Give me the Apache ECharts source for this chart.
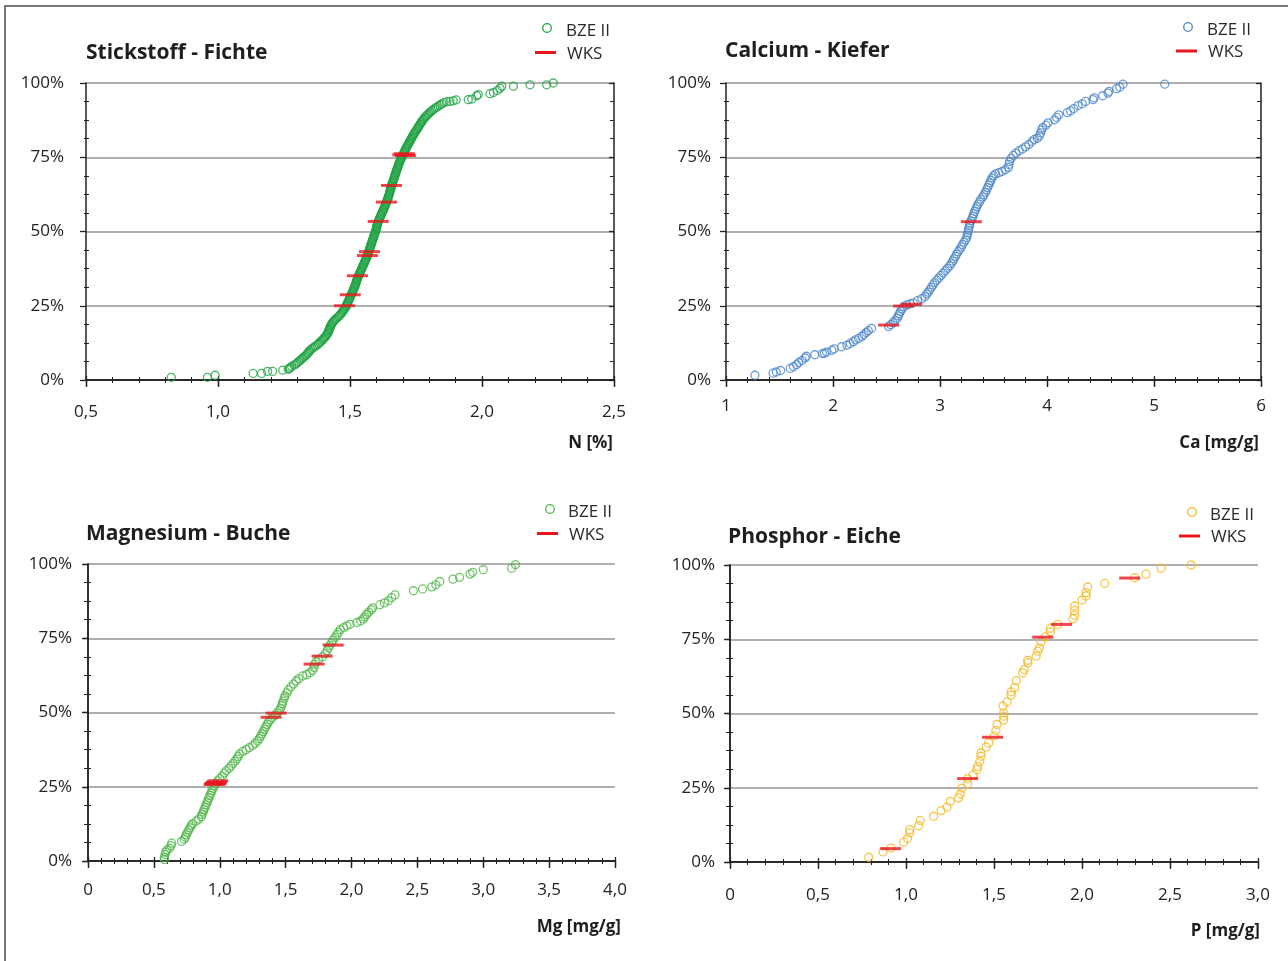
<!DOCTYPE html>
<html><head><meta charset="utf-8">
<script src="https://cdn.jsdelivr.net/npm/echarts@6/dist/echarts.min.js"></script>
<style>html,body{margin:0;padding:0;background:#fff}#c{width:1288px;height:961px}</style>
</head><body><div id="c"></div>
<script>
// ---- texts / tick labels ----
const titles = ['Stickstoff - Fichte', 'Calcium - Kiefer', 'Magnesium - Buche', 'Phosphor - Eiche'];
const axisNames = ['N [%]', 'Ca [mg/g]', 'Mg [mg/g]', 'P [mg/g]'];
const seriesNames = ['BZE II', 'WKS'];
const yTicks = ['0%', '25%', '50%', '75%', '100%'];
const nTicks = ['0,5', '1,0', '1,5', '2,0', '2,5'];
const caTicks = ['1', '2', '3', '4', '5', '6'];
const mgTicks = ['0', '0,5', '1,0', '1,5', '2,0', '2,5', '3,0', '3,5', '4,0'];
const pTicks = ['0', '0,5', '1,0', '1,5', '2,0', '2,5', '3,0'];

// ---- data: [value, cumulative %] ----
const nBZE = [[0.823,0.9],[0.960,0.9],[0.989,1.6],[1.133,2.2],[1.165,2.2],[1.188,2.9],[1.207,2.9],[1.245,3.3],[1.266,3.6],
[1.270,3.8],[1.273,4.2],[1.279,4.6],[1.288,5.0],[1.295,5.4],[1.301,5.8],[1.306,6.2],[1.311,6.6],[1.316,7.0],[1.321,7.4],[1.327,7.8],[1.332,8.2],[1.336,8.6],[1.340,9.0],[1.344,9.4],[1.347,9.8],[1.351,10.2],[1.357,10.6],[1.363,11.0],[1.369,11.4],[1.376,11.8],[1.381,12.2],[1.385,12.6],[1.390,13.0],[1.395,13.4],[1.399,13.8],[1.403,14.2],[1.407,14.6],[1.410,15.0],[1.413,15.4],[1.416,15.8],[1.418,16.2],[1.420,16.6],[1.421,17.0],[1.423,17.4],[1.425,17.8],[1.427,18.2],[1.429,18.6],[1.432,19.0],[1.435,19.4],[1.438,19.8],[1.442,20.2],[1.447,20.6],[1.452,21.0],[1.457,21.4],[1.461,21.8],[1.465,22.2],[1.469,22.6],[1.472,23.0],[1.475,23.4],[1.478,23.8],[1.481,24.2],[1.484,24.6],[1.486,25.0],[1.488,25.4],[1.490,25.8],[1.492,26.2],[1.494,26.6],[1.496,27.0],[1.498,27.4],[1.500,27.8],[1.502,28.2],[1.504,28.6],[1.506,29.0],[1.508,29.4],[1.510,29.8],[1.512,30.2],[1.514,30.6],[1.516,31.0],[1.518,31.4],[1.519,31.8],[1.521,32.2],[1.522,32.6],[1.524,33.0],[1.525,33.4],[1.527,33.8],[1.528,34.2],[1.530,34.6],[1.532,35.0],[1.534,35.4],[1.536,35.8],[1.538,36.2],[1.540,36.6],[1.542,37.0],[1.544,37.4],[1.546,37.8],[1.548,38.2],[1.550,38.6],[1.552,39.0],[1.554,39.4],[1.556,39.8],[1.558,40.2],[1.560,40.6],[1.562,41.0],[1.564,41.4],[1.566,41.8],[1.567,42.2],[1.569,42.6],[1.570,43.0],[1.572,43.4],[1.573,43.8],[1.575,44.2],[1.576,44.6],[1.578,45.0],[1.579,45.4],[1.581,45.8],[1.582,46.2],[1.584,46.6],[1.585,47.0],[1.587,47.4],[1.588,47.8],[1.590,48.2],[1.591,48.6],[1.593,49.0],[1.594,49.4],[1.596,49.8],[1.597,50.2],[1.599,50.6],[1.600,51.0],[1.601,51.4],[1.602,51.8],[1.603,52.2],[1.604,52.6],[1.606,53.0],[1.607,53.4],[1.609,53.8],[1.611,54.2],[1.613,54.6],[1.615,55.0],[1.617,55.4],[1.619,55.8],[1.621,56.2],[1.623,56.6],[1.625,57.0],[1.627,57.4],[1.629,57.8],[1.631,58.2],[1.633,58.6],[1.634,59.0],[1.636,59.4],[1.638,59.8],[1.640,60.2],[1.641,60.6],[1.643,61.0],[1.644,61.4],[1.646,61.8],[1.647,62.2],[1.649,62.6],[1.650,63.0],[1.651,63.4],[1.652,63.8],[1.654,64.2],[1.655,64.6],[1.656,65.0],[1.657,65.4],[1.659,65.8],[1.660,66.2],[1.662,66.6],[1.663,67.0],[1.665,67.4],[1.666,67.8],[1.668,68.2],[1.669,68.6],[1.671,69.0],[1.672,69.4],[1.674,69.8],[1.675,70.2],[1.677,70.6],[1.678,71.0],[1.680,71.4],[1.681,71.8],[1.683,72.2],[1.684,72.6],[1.686,73.0],[1.688,73.4],[1.690,73.8],[1.692,74.2],[1.694,74.6],[1.696,75.0],[1.698,75.4],[1.700,75.8],[1.703,76.2],[1.705,76.6],[1.707,77.0],[1.709,77.4],[1.711,77.8],[1.713,78.2],[1.716,78.6],[1.718,79.0],[1.721,79.4],[1.723,79.8],[1.726,80.2],[1.728,80.6],[1.731,81.0],[1.733,81.4],[1.736,81.8],[1.738,82.2],[1.741,82.6],[1.743,83.0],[1.746,83.4],[1.749,83.8],[1.752,84.2],[1.755,84.6],[1.758,85.0],[1.760,85.4],[1.763,85.8],[1.766,86.2],[1.769,86.6],[1.772,87.0],[1.775,87.4],[1.778,87.8],[1.782,88.2],[1.786,88.6],[1.790,89.0],[1.795,89.4],[1.799,89.8],[1.804,90.2],[1.809,90.6],[1.815,91.0],[1.821,91.4],[1.827,91.8],[1.834,92.2],[1.841,92.6],[1.848,93.0],[1.856,93.4],
[1.866,93.7],[1.879,93.8],[1.891,94.0],[1.902,94.3],[1.948,94.4],[1.961,94.6],[1.980,95.7],[1.986,96.1],[2.030,96.4],[2.043,96.8],[2.058,97.5],[2.068,98.2],[2.075,98.9],[2.119,98.9],[2.182,99.4],[2.245,99.4],[2.270,100]];
const nWKS = [[1.479,25.0],[1.501,28.7],[1.528,35.1],[1.566,41.9],[1.574,43.2],[1.607,53.4],[1.638,59.9],[1.657,65.5],[1.700,75.8],[1.706,76.2],[1.710,75.6]];

const caBZE = [[1.27,1.6],[1.44,2.3],[1.47,2.7],[1.51,3.2],[1.60,3.9],[1.63,4.5],[1.66,5.2],[1.68,5.9],[1.71,6.6],[1.74,7.4],[1.75,8.0],[1.83,8.5],[1.90,8.9],[1.92,9.0],[1.94,9.4],[1.99,10.0],[2.01,10.5],[2.08,11.2],[2.13,11.7],[2.16,12.3],[2.19,12.9],[2.21,13.5],[2.24,14.0],[2.27,14.7],[2.29,15.3],[2.31,16.0],[2.33,16.6],[2.36,17.4],[2.52,18.0],[2.54,18.6],[2.56,19.3],[2.58,20.0],[2.60,20.8],[2.61,21.6],[2.62,22.3],[2.63,23.1],[2.645,23.9],[2.66,24.7],[2.69,25.3],[2.72,25.6],[2.75,26.0],[2.79,26.7],[2.83,27.4],[2.86,28.1],[2.875,28.9],[2.89,29.6],[2.905,30.4],[2.92,31.2],[2.935,32.0],[2.95,32.8],[2.97,33.6],[2.99,34.4],[3.01,35.2],[3.03,36.0],[3.05,36.8],[3.07,37.6],[3.09,38.4],[3.105,39.2],[3.12,40.0],[3.13,40.8],[3.145,41.6],[3.155,42.4],[3.17,43.2],[3.185,44.0],[3.20,44.8],[3.21,45.6],[3.225,46.4],[3.24,47.2],[3.25,48.0],[3.255,48.8],[3.26,49.6],[3.265,50.4],[3.27,51.2],[3.275,52.0],[3.28,52.8],[3.29,53.6],[3.30,54.4],[3.31,55.2],[3.315,56.0],[3.325,56.8],[3.335,57.6],[3.345,58.4],[3.355,59.2],[3.37,60.0],[3.38,60.8],[3.40,61.6],[3.41,62.4],[3.425,63.2],[3.435,64.0],[3.445,64.8],[3.455,65.6],[3.465,66.4],[3.475,67.2],[3.485,68.0],[3.50,68.8],[3.52,69.4],[3.55,69.8],[3.58,70.2],[3.61,70.8],[3.64,71.6],[3.645,72.6],[3.65,73.6],[3.665,74.6],[3.685,75.6],[3.71,76.4],[3.74,77.2],[3.77,77.8],[3.80,78.5],[3.83,79.3],[3.86,80.3],[3.88,81.0],[3.91,81.4],[3.93,82.2],[3.94,83.2],[3.95,84.2],[3.96,85.0],[3.99,85.8],[4.01,86.6],[4.07,87.6],[4.09,88.4],[4.11,89.3],[4.19,90.0],[4.22,90.6],[4.25,91.4],[4.29,92.4],[4.33,93.0],[4.36,93.8],[4.43,94.4],[4.44,95.0],[4.52,95.7],[4.57,96.6],[4.58,97.2],[4.65,98.1],[4.68,98.6],[4.71,99.6],[5.10,99.6]];
const caWKS = [[2.52,18.5],[2.66,24.9],[2.735,25.5],[3.293,53.3]];

const mgBZE = [[0.58,0.5],[0.58,1.2],[0.585,2.2],[0.59,3.0],[0.60,3.7],[0.62,4.3],[0.63,5.2],[0.635,6.0],[0.71,6.6],[0.73,7.3],[0.74,8.0],[0.745,8.8],[0.755,9.6],[0.765,10.4],[0.775,11.2],[0.785,12.0],[0.795,12.6],[0.82,13.4],[0.84,14.1],[0.86,14.9],[0.865,15.7],[0.875,16.5],[0.88,17.3],[0.89,18.1],[0.895,18.9],[0.905,19.7],[0.91,20.5],[0.92,21.3],[0.925,22.1],[0.935,22.9],[0.94,23.7],[0.95,24.5],[0.96,25.3],[0.97,26.1],[0.985,27.0],[1.0,27.8],[1.02,28.6],[1.035,29.6],[1.05,30.4],[1.07,31.2],[1.085,32.0],[1.10,32.8],[1.115,33.6],[1.13,34.4],[1.14,35.2],[1.15,36.0],[1.175,36.9],[1.20,37.5],[1.225,38.2],[1.25,38.9],[1.27,39.6],[1.285,40.4],[1.30,41.2],[1.31,42.0],[1.32,42.8],[1.33,43.6],[1.34,44.4],[1.35,45.2],[1.36,46.0],[1.37,46.8],[1.385,47.6],[1.40,48.3],[1.42,49.0],[1.435,49.8],[1.45,50.6],[1.46,51.4],[1.47,52.2],[1.475,53.0],[1.48,53.8],[1.49,54.8],[1.495,55.6],[1.51,56.6],[1.52,57.6],[1.54,58.6],[1.56,59.6],[1.58,60.6],[1.60,61.4],[1.63,62.3],[1.66,62.8],[1.685,63.4],[1.705,64.2],[1.715,65.2],[1.72,66.2],[1.73,67.0],[1.75,67.8],[1.78,68.8],[1.80,69.8],[1.815,70.8],[1.825,71.8],[1.835,72.6],[1.85,73.5],[1.86,74.4],[1.875,75.3],[1.89,76.2],[1.90,77.0],[1.915,77.9],[1.94,78.6],[1.965,79.2],[1.99,79.7],[2.04,80.3],[2.07,80.8],[2.09,81.5],[2.10,82.2],[2.115,83.0],[2.13,83.8],[2.15,84.6],[2.16,85.2],[2.215,86.3],[2.25,86.9],[2.28,87.6],[2.305,88.7],[2.33,89.6],[2.47,91.0],[2.54,91.6],[2.61,92.3],[2.64,93.0],[2.67,94.1],[2.77,94.9],[2.82,95.5],[2.90,96.6],[2.92,97.2],[3.0,98.1],[3.215,98.6],[3.245,99.8]];
const mgWKS = [[0.957,25.8],[0.965,26.2],[0.975,26.5],[0.985,27.0],[0.970,25.9],[1.39,48.4],[1.428,49.8],[1.716,66.3],[1.777,69.0],[1.861,72.7]];

const pBZE = [[0.788,1.6],[0.869,3.4],[0.915,4.7],[0.987,6.7],[1.009,7.9],[1.021,9.8],[1.021,10.9],[1.072,12.2],[1.081,14.0],[1.157,15.4],[1.199,17.3],[1.233,18.5],[1.252,20.4],[1.299,21.6],[1.309,22.9],[1.318,24.9],[1.35,26.3],[1.35,28.1],[1.381,29.4],[1.403,31.1],[1.407,32.2],[1.419,33.9],[1.426,35.6],[1.426,36.7],[1.456,38.7],[1.47,40.1],[1.502,42.4],[1.511,44.3],[1.517,46.3],[1.555,47.8],[1.555,49.1],[1.555,50.2],[1.551,52.5],[1.574,53.9],[1.597,56.2],[1.598,57.3],[1.617,58.7],[1.627,61.1],[1.663,63.7],[1.672,64.8],[1.693,67.1],[1.691,67.9],[1.739,69.3],[1.748,71.0],[1.758,72.1],[1.767,74.2],[1.792,75.8],[1.82,77.5],[1.82,78.7],[1.862,80.0],[1.949,81.9],[1.958,83.1],[1.958,84.7],[1.958,86.2],[2.0,88.2],[2.023,89.6],[2.023,90.7],[2.032,92.6],[2.129,93.8],[2.3,95.7],[2.364,96.9],[2.449,98.9],[2.619,100]];
const pWKS = [[0.913,4.5],[1.35,28.1],[1.492,42.0],[1.777,75.7],[1.884,80.0],[2.271,95.6]];

// ---- layout ----
const FONT = '"Open Sans", "Noto Sans", sans-serif';
const panels = [
  {bze:nBZE, wks:nWKS, ticks:nTicks, min:0.5, max:2.5, interval:0.5, color:'#1fa243',
   grid:{left:86, top:83, width:528, height:297}, yMargin:22, xMargin:24,
   titlePos:[86,53], namePos:[613,443], lg:{cx:547, cy:28, tx:566, lx1:535, lx2:556, ly:52.5, ty2:54}},
  {bze:caBZE, wks:caWKS, ticks:caTicks, min:1, max:6, interval:1, color:'#4a86c8',
   grid:{left:726, top:83, width:535, height:297}, yMargin:15, xMargin:18,
   titlePos:[725,51], namePos:[1259,443], lg:{cx:1188, cy:27, tx:1207, lx1:1176, lx2:1197, ly:51, ty2:52.5}},
  {bze:mgBZE, wks:mgWKS, ticks:mgTicks, min:0, max:4, interval:0.5, color:'#4fb748',
   grid:{left:88, top:564, width:527, height:297}, yMargin:16, xMargin:21,
   titlePos:[86,534], namePos:[621,927], lg:{cx:550, cy:509, tx:568, lx1:537, lx2:558, ly:533.5, ty2:535.5}},
  {bze:pBZE, wks:pWKS, ticks:pTicks, min:0, max:3, interval:0.5, color:'#f5b71e',
   grid:{left:730, top:565, width:528, height:297}, yMargin:15, xMargin:25,
   titlePos:[728,537], namePos:[1260,931], lg:{cx:1192, cy:512, tx:1210, lx1:1179, lx2:1200, ly:536, ty2:537.5}}
];

const AX = '#222';
const grids = [], xAxes = [], yAxes = [], series = [], graphics = [];
panels.forEach((p, i) => {
  grids.push(Object.assign({containLabel:false, outerBoundsMode:'none'}, p.grid));
  const xBase = {gridIndex:i, type:'value', min:p.min, max:p.max, interval:p.interval,
    splitLine:{show:false}, minorSplitLine:{show:false}};
  const xi = xAxes.length;
  xAxes.push(Object.assign({}, xBase, {position:'bottom',
    axisLine:{show:true, lineStyle:{color:AX, width:1.5}},
    axisTick:{show:true, inside:false, length:7, lineStyle:{color:AX, width:1.3}},
    minorTick:{show:true, splitNumber:5, length:3, lineStyle:{color:AX, width:1}},
    axisLabel:{show:true, margin:p.xMargin, fontSize:17, fontFamily:FONT, color:'#222',
      formatter: v => { const k = Math.round((v - p.min) / p.interval); return p.ticks[k] !== undefined ? p.ticks[k] : ''; }}}));
  xAxes.push(Object.assign({}, xBase, {position:'bottom',
    axisLine:{show:false}, axisTick:{show:true, inside:true, length:4, lineStyle:{color:AX, width:1.3}},
    minorTick:{show:true, splitNumber:5, length:3, lineStyle:{color:AX, width:1}}, axisLabel:{show:false}}));
  xAxes.push(Object.assign({}, xBase, {position:'top',
    axisLine:{show:true, lineStyle:{color:AX, width:1.5}},
    axisTick:{show:true, inside:true, length:6, lineStyle:{color:AX, width:1.3}},
    minorTick:{show:false}, axisLabel:{show:false}}));
  const yBase = {gridIndex:i, type:'value', min:0, max:100, interval:25, minorSplitLine:{show:false}};
  const yi = yAxes.length;
  yAxes.push(Object.assign({}, yBase, {position:'left',
    axisLine:{show:true, lineStyle:{color:AX, width:1.5}},
    axisTick:{show:true, inside:false, length:6, lineStyle:{color:AX, width:1.3}},
    minorTick:{show:true, splitNumber:4, length:2, lineStyle:{color:AX, width:1}},
    splitLine:{show:true, lineStyle:{color:'#959595', width:1.6}},
    axisLabel:{show:true, margin:p.yMargin, fontSize:17, fontFamily:FONT, color:'#222',
      formatter: v => yTicks[Math.round(v / 25)]}}));
  yAxes.push(Object.assign({}, yBase, {position:'left', splitLine:{show:false},
    axisLine:{show:false}, axisTick:{show:false, inside:true},
    minorTick:{show:true, splitNumber:4, length:3, lineStyle:{color:AX, width:1}},
    axisLabel:{show:false}}));
  yAxes.push(Object.assign({}, yBase, {position:'right', splitLine:{show:false},
    axisLine:{show:true, lineStyle:{color:AX, width:1.5}},
    axisTick:{show:true, inside:true, length:5, lineStyle:{color:AX, width:1.3}},
    minorTick:{show:true, splitNumber:4, length:4, lineStyle:{color:AX, width:1}},
    axisLabel:{show:false}}));

  series.push({type:'scatter', name:seriesNames[0], xAxisIndex:xi, yAxisIndex:yi, data:p.bze,
    symbol:'circle', symbolSize:8, clip:false, z:3,
    itemStyle:{color:'rgba(0,0,0,0)', borderColor:p.color, borderWidth:1.3},
    emphasis:{disabled:true}});
  series.push({type:'scatter', name:seriesNames[1], xAxisIndex:xi, yAxisIndex:yi, data:p.wks,
    symbol:'rect', symbolSize:[21,3], clip:false, z:4,
    itemStyle:{color:'#e8161e'}, emphasis:{disabled:true}});

  graphics.push({type:'text', x:p.titlePos[0], y:p.titlePos[1], z:10,
    style:{text:titles[i], font:'bold 21px ' + FONT, fill:'#1e1e1e', align:'left', verticalAlign:'middle'}});
  graphics.push({type:'text', x:p.namePos[0], y:p.namePos[1], z:10,
    style:{text:axisNames[i], font:'bold 17px ' + FONT, fill:'#1e1e1e', align:'right', verticalAlign:'middle'}});
  const lg = p.lg;
  graphics.push({type:'circle', shape:{cx:lg.cx, cy:lg.cy, r:4.3}, z:10,
    style:{fill:'none', stroke:p.color, lineWidth:1.3}});
  graphics.push({type:'text', x:lg.tx, y:lg.cy + 3, z:10,
    style:{text:seriesNames[0], font:'17px ' + FONT, fill:'#2a2a2a', align:'left', verticalAlign:'middle'}});
  graphics.push({type:'line', shape:{x1:lg.lx1, y1:lg.ly, x2:lg.lx2, y2:lg.ly}, z:10,
    style:{stroke:'#e8161e', lineWidth:3}});
  graphics.push({type:'text', x:lg.tx + 1, y:lg.ty2, z:10,
    style:{text:seriesNames[1], font:'17px ' + FONT, fill:'#2a2a2a', align:'left', verticalAlign:'middle'}});
});
graphics.push({type:'polyline', shape:{points:[[5,961],[5,6],[1288,6]]}, z:10,
  style:{fill:'none', stroke:'#4a4a4a', lineWidth:1.5}});

const chart = echarts.init(document.getElementById('c'), null, {renderer:'canvas'});
chart.setOption({animation:false, backgroundColor:'#fff', grid:grids, xAxis:xAxes, yAxis:yAxes,
  series:series, graphic:graphics, tooltip:{show:false}});
</script></body></html>
